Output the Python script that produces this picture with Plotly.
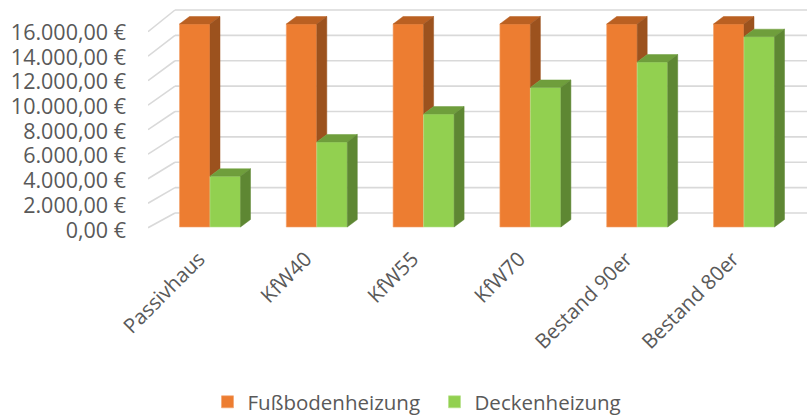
import plotly.graph_objects as go

# ---------------- data ----------------
categories = ["Passivhaus", "KfW40", "KfW55", "KfW70", "Bestand 90er", "Bestand 80er"]
fussboden = [16000, 16000, 16000, 16000, 16000, 16000]
decken = [4000, 6700, 8900, 11000, 13000, 15000]
series_names = ["Fußbodenheizung", "Deckenheizung"]
y_ticks = [0, 2000, 4000, 6000, 8000, 10000, 12000, 14000, 16000]


def euro(v):
    s = f"{v:,.2f}".replace(",", "X").replace(".", ",").replace("X", ".")
    return s + " €"


y_ticktext = [euro(v) for v in y_ticks]

# ---------------- layout geometry (pixels) ----------------
W, H = 807, 416
L, T = 148, 0
PB = 232                      # plot bottom pixel
PW, PH = W - L, PB - T
FLOOR_PX = 227                # front face base
TOP_PX = 24                   # front face top for max value
VMAX = 16000
k = (FLOOR_PX - TOP_PX) / VMAX          # px per value unit (front face)
cx = 106.8                              # px per category
first_center = 210
xmin = -(first_center - L) / cx
xmax = xmin + PW / cx
ymin = -(PB - FLOOR_PX) / k
ymax = ymin + PH / k

bw = 30.5 / cx                # bar width in category units
ddx, ddy = 10 / cx, 7.5 / k   # bar depth offset
wall_dx_px, wall_dy_px = 27, 14

# label axis (front plane of left wall)
LBL0, LBLMAX = 230.0, 32.3
k2 = (LBL0 - LBLMAX) / VMAX
y2min = (LBL0 - PB) / k2
y2max = (LBL0 - T) / k2

OR_FRONT, OR_TOP, OR_SIDE = "#ED7D31", "#BA6022", "#9C521E"
GR_FRONT, GR_TOP, GR_SIDE = "#92D050", "#6F9E3C", "#5E8733"
GRID = "#D9D9D9"
TXT = "#595959"
FONT = "Open Sans"

fig = go.Figure()

# front faces (real bars)
fig.add_trace(go.Bar(x=list(range(len(categories))), y=fussboden, width=bw, offset=-bw,
                     marker=dict(color=OR_FRONT, line=dict(width=0.6, color="#F4A36C")),
                     name=series_names[0]))
fig.add_trace(go.Bar(x=list(range(len(categories))), y=decken, width=bw, offset=0,
                     marker=dict(color=GR_FRONT, line=dict(width=0.6, color="#B5E08A")),
                     name=series_names[1]))


def poly(xs, ys, color):
    fig.add_trace(go.Scatter(x=xs + [xs[0]], y=ys + [ys[0]], mode="lines", fill="toself",
                             fillcolor=color, line=dict(width=0.5, color=color),
                             showlegend=False, hoverinfo="skip"))


for i, (o, g) in enumerate(zip(fussboden, decken)):
    poly([i - bw, i, i + ddx, i - bw + ddx], [o, o, o + ddy, o + ddy], OR_TOP)
    if g < o:
        poly([i, i + ddx, i + ddx, i], [o, o + ddy, g + ddy, g], OR_SIDE)
    poly([i, i + bw, i + bw + ddx, i + ddx], [g, g, g + ddy, g + ddy], GR_TOP)
    poly([i + bw, i + bw + ddx, i + bw + ddx, i + bw], [0, ddy, g + ddy, g], GR_SIDE)

# back wall gridlines and left-wall diagonals
shapes = []
wall_x0 = xmin + wall_dx_px / cx
for v in y_ticks:
    yb = v + wall_dy_px / k
    shapes.append(dict(type="line", xref="x", yref="y", x0=wall_x0, x1=xmax, y0=yb, y1=yb,
                       line=dict(color=GRID, width=1.6), layer="below"))
    front_px = (LBL0 - 2.3) - v * (196 / VMAX)
    yf = (FLOOR_PX - front_px) / k
    shapes.append(dict(type="line", xref="x", yref="y", x0=xmin, x1=wall_x0, y0=yf, y1=yb,
                       line=dict(color=GRID, width=1.6), layer="below"))

fig.update_layout(
    template="none",
    width=W, height=H,
    margin=dict(l=L, r=0, t=T, b=H - PB, pad=0, autoexpand=False),
    paper_bgcolor="white", plot_bgcolor="white",
    barmode="overlay",
    shapes=shapes,
    font=dict(family=FONT, color=TXT, size=20),
    xaxis=dict(range=[xmin, xmax], tickvals=list(range(len(categories))), ticktext=categories,
               tickangle=-45, showgrid=False, zeroline=False, showline=False, ticks="",
               automargin=False, ticklabelstandoff=10, ticklabelshift=-11,
               tickfont=dict(size=20.5, color=TXT)),
    yaxis=dict(range=[ymin, ymax], showgrid=False, zeroline=False, showticklabels=False,
               showline=False, ticks="", automargin=False),
    yaxis2=dict(range=[y2min, y2max], overlaying="y", side="left", anchor="x",
                tickvals=y_ticks, ticktext=y_ticktext,
                showgrid=False, zeroline=False, showline=False, ticks="", automargin=False,
                ticklabelstandoff=21, tickfont=dict(size=21.5, color=TXT)),
    legend=dict(orientation="h", x=(434.5 - L) / PW, xanchor="center",
                y=-(402 - PB) / PH, yanchor="middle", bgcolor="rgba(0,0,0,0)",
                font=dict(size=20.5, color=TXT), itemwidth=30, traceorder="normal",
                entrywidth=182, entrywidthmode="pixels"),
    showlegend=True,
)

fig.add_trace(go.Scatter(x=[None], y=[None], yaxis="y2", showlegend=False, hoverinfo="skip"))

# remove the browser's default page margin so the figure sits at the window origin
fig.write_html("out.html", config={"displayModeBar": False},
               post_script="document.body.style.margin='0';")
